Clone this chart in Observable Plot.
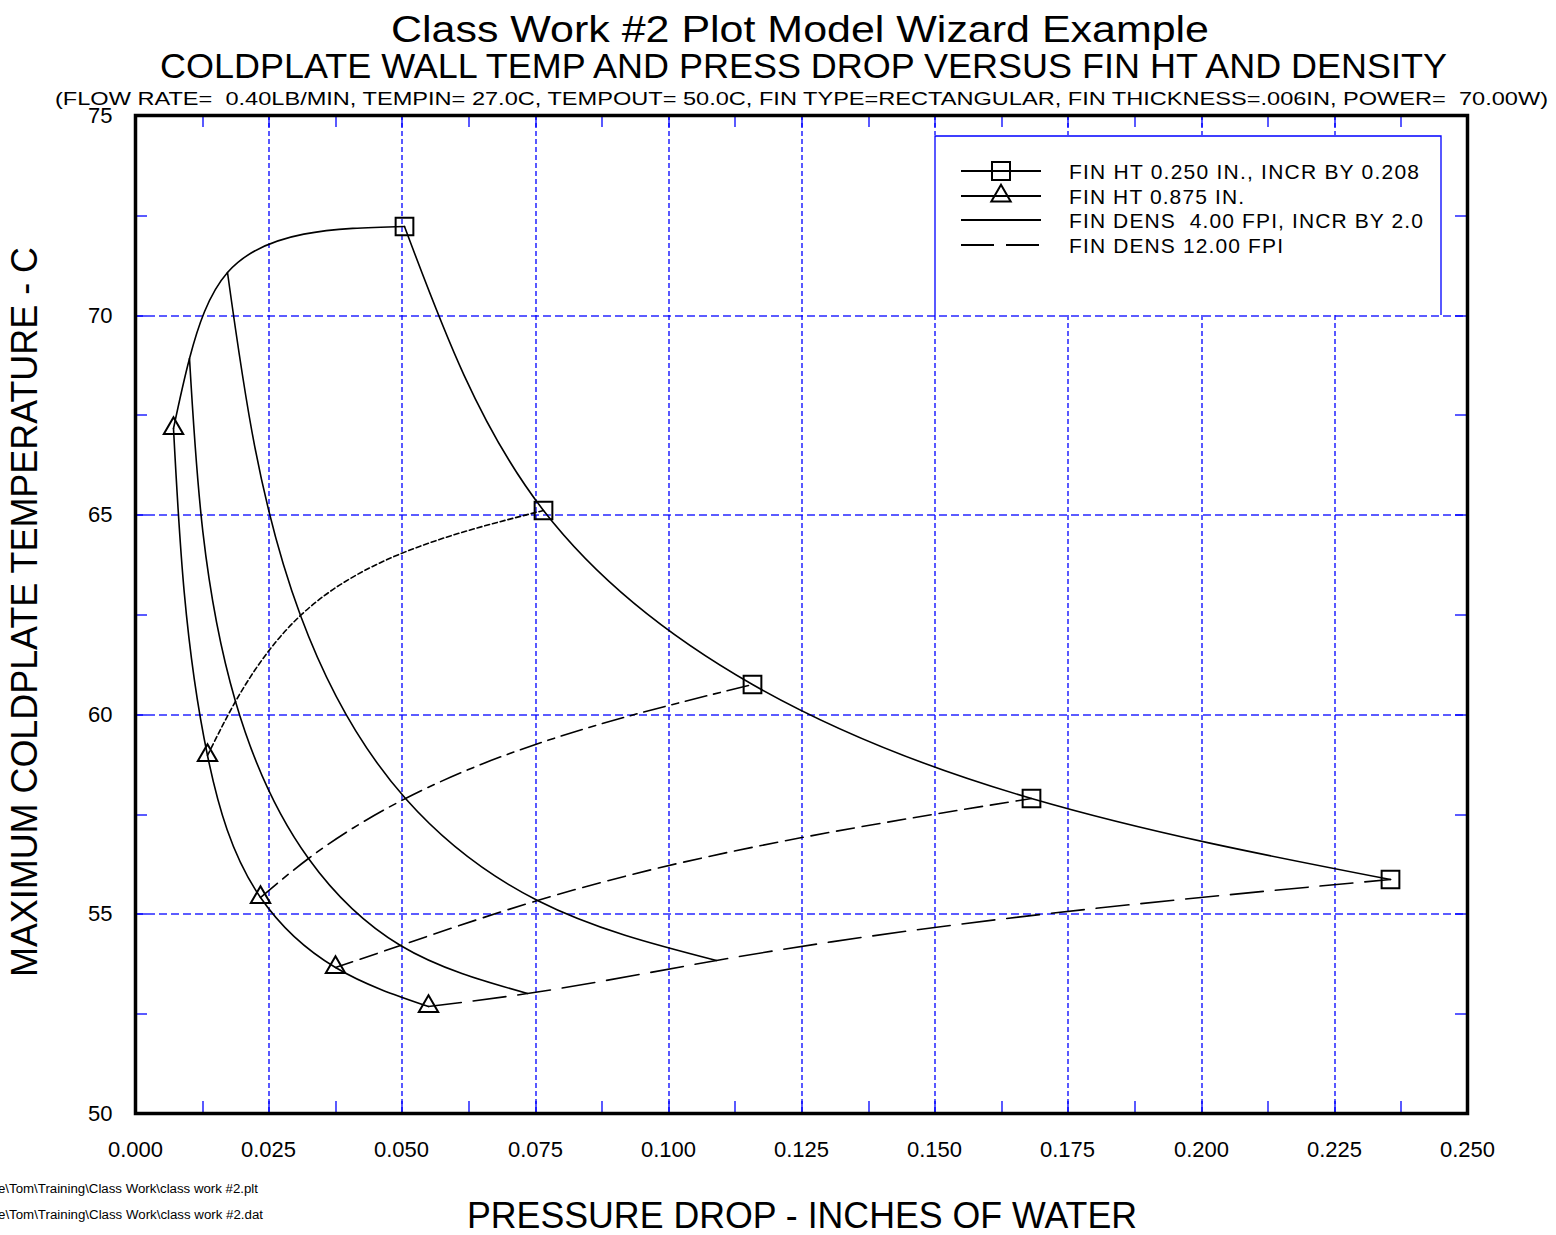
<!DOCTYPE html>
<html>
<head>
<meta charset="utf-8">
<script src="https://cdn.jsdelivr.net/npm/d3@7"></script>
<script src="https://cdn.jsdelivr.net/npm/@observablehq/plot@0.6"></script>
<style>
  html, body { margin: 0; padding: 0; background: #fff; }
  #chart svg { display: block; }
</style>
</head>
<body>
<div id="chart"></div>
<script>
// ---------------- data ----------------
const finHeights = [0.250, 0.458, 0.667, 0.875];          // in.
const finDensities = [4, 6, 8, 10, 12];                   // FPI
// pressure drop (in. of water) for each fin height, by fin density 4..12
const dropHt0250 = [0.0505, 0.0766, 0.1158, 0.1682, 0.2355];
const dropHt0458 = [0.0173, 0.0310, 0.0507, 0.0755, 0.1090];
const dropHt0667 = [0.0101, 0.0188, 0.0325, 0.0497, 0.0736];
const dropHt0875 = [0.0071, 0.0135, 0.0235, 0.0375, 0.0550];
// maximum coldplate temperature (C) for each fin height, by fin density 4..12
const tempHt0250 = [72.23, 65.10, 60.75, 57.89, 55.86];
const tempHt0458 = [71.07, 62.47, 57.89, 55.34, 53.83];
const tempHt0667 = [68.92, 60.32, 56.39, 54.21, 53.00];
const tempHt0875 = [67.16, 58.97, 55.41, 53.66, 52.68];

const xTicks = [0, 0.025, 0.05, 0.075, 0.1, 0.125, 0.15, 0.175, 0.2, 0.225, 0.25];
const yTicks = [50, 55, 60, 65, 70, 75];
const xSmallTicks = [0.0125, 0.025, 0.0375, 0.05, 0.0625, 0.075, 0.0875, 0.1, 0.1125, 0.125,
                     0.1375, 0.15, 0.1625, 0.175, 0.1875, 0.2, 0.2125, 0.225, 0.2375];
const ySmallTicks = [52.5, 55, 57.5, 60, 62.5, 65, 67.5, 70, 72.5];

const titleText = "Class Work #2 Plot Model Wizard Example";
const subtitleText = "COLDPLATE WALL TEMP AND PRESS DROP VERSUS FIN HT AND DENSITY";
const conditionsText = "(FLOW RATE=  0.40LB/MIN, TEMPIN= 27.0C, TEMPOUT= 50.0C, FIN TYPE=RECTANGULAR, FIN THICKNESS=.006IN, POWER=  70.00W)";
const xLabelText = "PRESSURE DROP - INCHES OF WATER";
const yLabelText = "MAXIMUM COLDPLATE TEMPERATURE - C";
const footerPlt = "e\\Tom\\Training\\Class Work\\class work #2.plt";
const footerDat = "e\\Tom\\Training\\Class Work\\class work #2.dat";
const legendLabels = [
  "FIN HT 0.250 IN., INCR BY 0.208",
  "FIN HT 0.875 IN.",
  "FIN DENS  4.00 FPI, INCR BY 2.0",
  "FIN DENS 12.00 FPI"
];

// ---------------- table ----------------
const drops = [dropHt0250, dropHt0458, dropHt0667, dropHt0875];
const temps = [tempHt0250, tempHt0458, tempHt0667, tempHt0875];
const rows = finHeights.flatMap((ht, i) =>
  finDensities.map((dens, j) => ({ht, dens, drop: drops[i][j], temp: temps[i][j]})));

// ---------------- curve: natural cubic spline, chord-length parameterized ----------------
function naturalSecondDerivs(v, h) {
  const n = v.length, d = [];
  for (let i = 0; i < n - 1; i++) d[i] = (v[i + 1] - v[i]) / h[i];
  const m = n - 2, a = [], b = [], c = [], r = [];
  for (let i = 1; i <= m; i++) {
    a.push(h[i - 1]); b.push(2 * (h[i - 1] + h[i])); c.push(h[i]); r.push(6 * (d[i] - d[i - 1]));
  }
  for (let i = 1; i < m; i++) { const w = a[i] / b[i - 1]; b[i] -= w * c[i - 1]; r[i] -= w * r[i - 1]; }
  const M = new Array(n).fill(0);
  for (let i = m - 1; i >= 0; i--) M[i + 1] = (r[i] - (i < m - 1 ? c[i] * M[i + 2] : 0)) / b[i];
  return {d, M};
}
function curveChordalSpline(context) {
  let xs, ys;
  return {
    areaStart() {}, areaEnd() {},
    lineStart() { xs = []; ys = []; },
    point(x, y) { xs.push(+x); ys.push(+y); },
    lineEnd() {
      const n = xs.length;
      if (!n) return;
      context.moveTo(xs[0], ys[0]);
      if (n === 1) return;
      if (n === 2) { context.lineTo(xs[1], ys[1]); return; }
      const h = [];
      for (let i = 0; i < n - 1; i++) h[i] = Math.max(1e-6, Math.hypot(xs[i + 1] - xs[i], ys[i + 1] - ys[i]));
      const X = naturalSecondDerivs(xs, h), Y = naturalSecondDerivs(ys, h);
      for (let i = 0; i < n - 1; i++) {
        const hx0 = X.d[i] - h[i] * (2 * X.M[i] + X.M[i + 1]) / 6;
        const hx1 = X.d[i] + h[i] * (X.M[i] + 2 * X.M[i + 1]) / 6;
        const hy0 = Y.d[i] - h[i] * (2 * Y.M[i] + Y.M[i + 1]) / 6;
        const hy1 = Y.d[i] + h[i] * (Y.M[i] + 2 * Y.M[i + 1]) / 6;
        context.bezierCurveTo(xs[i] + hx0 * h[i] / 3, ys[i] + hy0 * h[i] / 3,
                              xs[i + 1] - hx1 * h[i] / 3, ys[i + 1] - hy1 * h[i] / 3,
                              xs[i + 1], ys[i + 1]);
      }
    }
  };
}

// ---------------- layout / style ----------------
const W = 1556, H = 1235;
const mt = 115, ml = 135, mr = 89, mb = 122;
const frameW = W - ml - mr, frameH = H - mt - mb;
const tickLen = 12;
const densityDash = [null, "5,3", "22,7,7,7", "18,8", "33,12"];
const gridBlue = "#0000ff";
const font = "'Liberation Sans', Arial, Helvetica, sans-serif";

const densityLines = finDensities.map((d, j) => {
  const opts = {x: "drop", y: "temp", curve: curveChordalSpline, stroke: "black", strokeWidth: 1.6};
  if (densityDash[j]) opts.strokeDasharray = densityDash[j];
  return Plot.line(d3.sort(rows.filter(r => r.dens === d), r => r.drop), opts);
});

const plot = Plot.plot({
  width: W, height: H,
  marginTop: mt, marginLeft: ml, marginRight: mr, marginBottom: mb,
  style: {fontFamily: font, fontSize: "22px", background: "white", color: "black", overflow: "hidden"},
  x: {domain: [0, 0.25], round: true},
  y: {domain: [50, 75], round: true},
  marks: [
    Plot.gridX(xTicks.slice(1, -1), {stroke: gridBlue, strokeOpacity: 1, strokeDasharray: "5,3", strokeWidth: 1.3, dx: 0.5}),
    Plot.gridY(yTicks.slice(1, -1), {stroke: gridBlue, strokeOpacity: 0.85, strokeDasharray: "8,4", strokeWidth: 1.3, dy: 0.5}),
    Plot.tickX(xSmallTicks, {x: d => d, stroke: gridBlue, strokeWidth: 1.3, dx: 0.5, insetTop: frameH - tickLen}),
    Plot.tickX(xSmallTicks, {x: d => d, stroke: gridBlue, strokeWidth: 1.3, dx: 0.5, insetBottom: frameH - tickLen}),
    Plot.tickY(ySmallTicks, {y: d => d, stroke: gridBlue, strokeWidth: 1.3, dy: 0.5, insetRight: frameW - tickLen}),
    Plot.tickY(ySmallTicks, {y: d => d, stroke: gridBlue, strokeWidth: 1.3, dy: 0.5, insetLeft: frameW - tickLen}),
    Plot.axisX(xTicks, {tickSize: 0, tickPadding: 28, tickFormat: d3.format(".3f"), label: null, fill: "black"}),
    Plot.axisY(yTicks, {tickSize: 0, tickPadding: 23, label: null, fill: "black"}),
    Plot.line(rows, {x: "drop", y: "temp", z: "ht", curve: curveChordalSpline, stroke: "black", strokeWidth: 1.6}),
    ...densityLines,
    Plot.dot(rows.filter(r => r.ht === finHeights[0]), {x: "drop", y: "temp", symbol: "square", r: 10, fill: "none", stroke: "black", strokeWidth: 2}),
    Plot.dot(rows.filter(r => r.ht === finHeights[3]), {x: "drop", y: "temp", symbol: "triangle", r: 7.2, fill: "none", stroke: "black", strokeWidth: 2}),
    Plot.frame({stroke: "black", strokeWidth: 3.5})
  ]
});

document.getElementById("chart").appendChild(plot);

// ---------------- titles, labels, legend ----------------
const svg = d3.select(plot);
function addText(parent, txt, o) {
  const t = parent.append("text")
    .attr("x", o.x).attr("y", o.y)
    .attr("text-anchor", o.anchor || "middle")
    .attr("font-family", o.family || font)
    .attr("font-size", o.size)
    .attr("fill", "black")
    .style("white-space", "pre")
    .text(txt);
  if (o.length) t.attr("textLength", o.length).attr("lengthAdjust", o.adjust || "spacingAndGlyphs");
  if (o.rotate) t.attr("transform", `rotate(${o.rotate},${o.x},${o.y})`);
  return t;
}
const labels = svg.append("g");
addText(labels, titleText, {x: 800, y: 42, size: 37, length: 818});
addText(labels, subtitleText, {x: 803.5, y: 78, size: 35, length: 1287});
addText(labels, conditionsText, {x: 801.5, y: 104.5, size: 18, length: 1493});
addText(labels, xLabelText, {x: 802, y: 1228, size: 37, length: 670});
addText(labels, yLabelText, {x: 37, y: 612, size: 37, length: 730, rotate: -90});
addText(labels, footerPlt, {x: -2, y: 1193, size: 12.5, anchor: "start", length: 260});
addText(labels, footerDat, {x: -2, y: 1219, size: 12.5, anchor: "start", length: 265});

// legend box anchored to the grid (left edge on 0.150, bottom on 70)
const sx = plot.scale("x"), sy = plot.scale("y");
const lx = Math.round(sx.apply(0.15)), lyBottom = Math.round(sy.apply(70));
const lw = 506, lh = 180, ly = lyBottom - lh;
const lg = svg.append("g");
lg.append("rect").attr("x", lx).attr("y", ly).attr("width", lw).attr("height", lh - 0.5).attr("fill", "white");
lg.append("path")
  .attr("d", `M${lx + 1},${lyBottom}V${ly + 1}H${lx + lw + 1}V${lyBottom}`)
  .attr("fill", "none").attr("stroke", gridBlue).attr("stroke-width", 1.3);
const rowY = [36, 61, 85, 110];
const rowDash = [null, null, null, "33,12"];
const textLens = [350, 175, 354, 214];
rowY.forEach((dy, i) => {
  const y = ly + dy;
  const ln = lg.append("line").attr("x1", lx + 27).attr("x2", lx + 107).attr("y1", y).attr("y2", y)
    .attr("stroke", "black").attr("stroke-width", 2);
  if (rowDash[i]) ln.attr("stroke-dasharray", rowDash[i]);
  addText(lg, legendLabels[i], {x: lx + 135, y: y + 7.7, size: 21, anchor: "start", length: textLens[i], adjust: "spacing"});
});
lg.append("path").attr("transform", `translate(${lx + 67},${ly + rowY[0]})`)
  .attr("d", d3.symbol(d3.symbolSquare, 18 * 18)())
  .attr("fill", "none").attr("stroke", "black").attr("stroke-width", 2);
lg.append("path").attr("transform", `translate(${lx + 67},${ly + rowY[1]})`)
  .attr("d", d3.symbol(d3.symbolTriangle, 7.2 * 7.2 * Math.PI)())
  .attr("fill", "none").attr("stroke", "black").attr("stroke-width", 2);
</script>
</body>
</html>
